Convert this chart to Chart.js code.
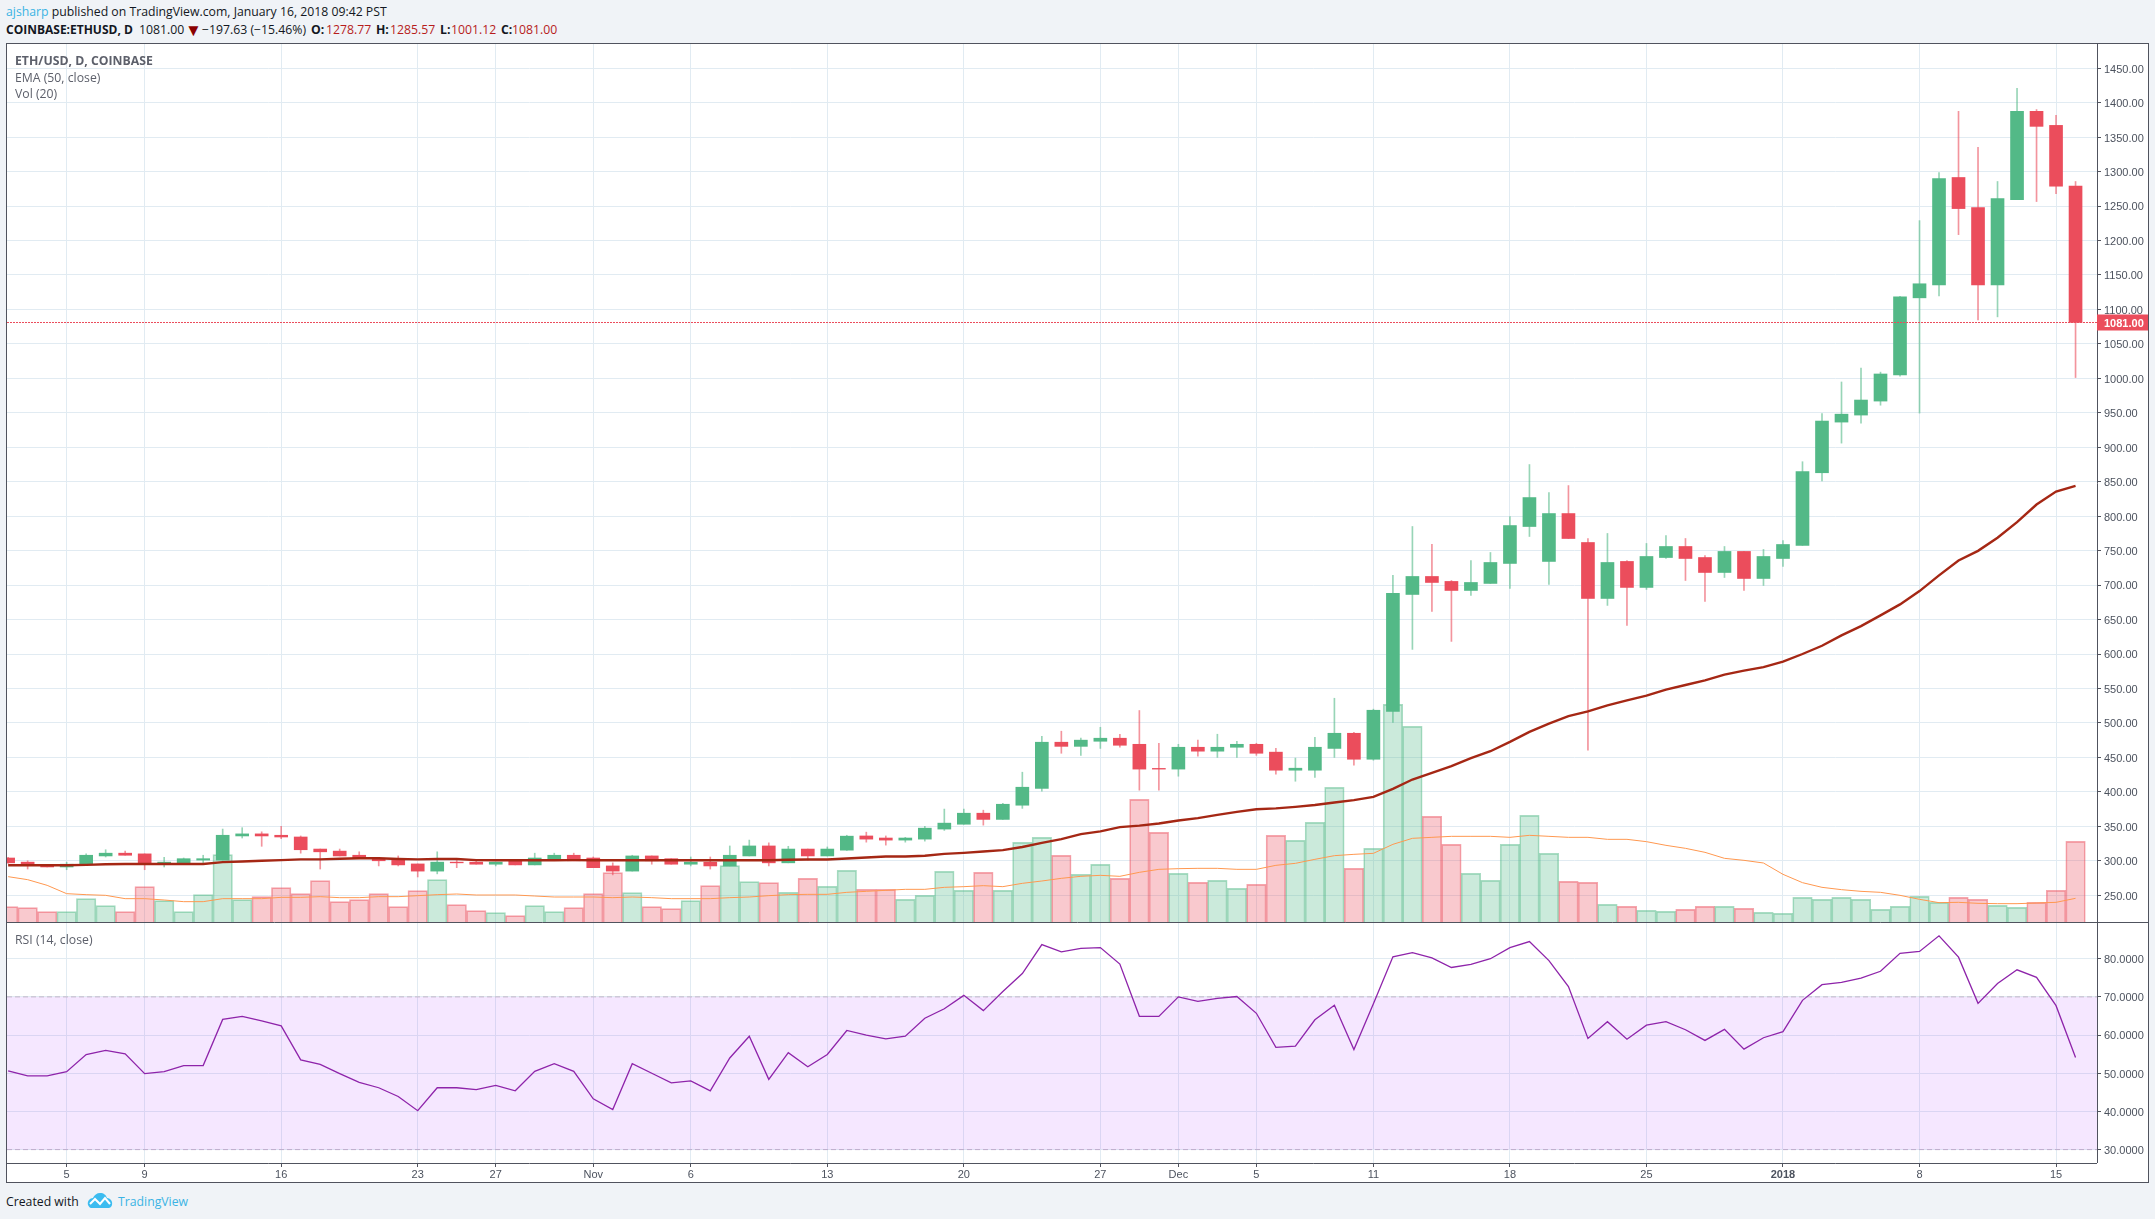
<!DOCTYPE html>
<html>
<head>
<meta charset="utf-8">
<title>ETH/USD</title>
<script src="https://cdn.jsdelivr.net/npm/chart.js@4"></script>
<style>
    html, body { margin: 0; padding: 0; width: 2155px; height: 1219px; overflow: hidden; background: #f0f3f7; }
    body { position: relative; font-family: 'Open Sans', sans-serif; color: #131722; }
    .txt { position: absolute; white-space: pre; line-height: 16px; font-size: 12.25px; }
    .blue { color: #3bb3e4; }
    .red { color: #b71c1c; }
    .pane-note { color: #5d606b; z-index: 5; }
    #frame { position: absolute; left: 6px; top: 43px; width: 2141px; height: 1138px; border: 1px solid #50535e; background: #fff; }
    canvas { position: absolute; left: 0; }
    #logo { position: absolute; left: 87px; top: 1192px; }
</style>
</head>
<body>
<div class="txt" style="left:6px;top:4px"><span class="blue">ajsharp</span> published on TradingView.com, January 16, 2018 09:42 PST</div>

<div class="txt" style="left:6px;top:22px;font-size:12px"><b>COINBASE:ETHUSD, D</b></div>
<div class="txt" style="left:139px;top:22px">1081.00</div>
<div class="txt" style="left:185px;top:22px;font-size:17px;color:#8b0000">▼</div>
<div class="txt" style="left:202px;top:22px">−197.63 (−15.46%)</div>
<div class="txt" style="left:311px;top:22px"><b>O:</b></div>
<div class="txt red" style="left:326px;top:22px">1278.77</div>
<div class="txt" style="left:376px;top:22px"><b>H:</b></div>
<div class="txt red" style="left:390px;top:22px">1285.57</div>
<div class="txt" style="left:440px;top:22px"><b>L:</b></div>
<div class="txt red" style="left:451px;top:22px">1001.12</div>
<div class="txt" style="left:501px;top:22px"><b>C:</b></div>
<div class="txt red" style="left:512px;top:22px">1081.00</div>

<div id="frame">
    <canvas id="priceChart" width="2141" height="879" style="top:0"></canvas>
    <canvas id="rsiChart" width="2141" height="259" style="top:879px"></canvas>
</div>

<div class="txt pane-note" style="left:15px;top:53px"><b>ETH/USD, D, COINBASE</b></div>
<div class="txt pane-note" style="left:15px;top:70px">EMA (50, close)</div>
<div class="txt pane-note" style="left:15px;top:86px">Vol (20)</div>
<div class="txt pane-note" style="left:15px;top:932px">RSI (14, close)</div>

<div class="txt" style="left:6px;top:1194px">Created with</div>
<svg id="logo" width="26" height="17" viewBox="0 0 26 17">
    <path d="M1 13 C0 9 3 6 6 6 C7 3 10 1 13 1 C17 1 19 3 20 6 C23 6 26 9 25 13 C24 16 22 16 21 16 L4 16 C3 16 2 15 1 13 Z" fill="#3cbcf0"/>
    <path d="M3 12 L8 7 L13 12 L18 6 L23 12" fill="none" stroke="#fff" stroke-width="2"/>
</svg>
<div class="txt blue" style="left:118px;top:1194px">TradingView</div>

<script>
// Daily ETH/USD candles from Oct 2 2017 to Jan 16 2018, one entry per day
const opens = [304,298,294,291,295,307,311,310,296,296,
    301,301,336,339,337,334.5,317,314,308,303,
    301,295.4,285,298,298,295,300,294,301,308,
    304,292.5,285,307,303,295,298,292.5,307,321.5,
    297,317,307,315.4,336,333,330,331.4,346,353,
    369,360,380.6,405,472,466,473.4,477.8,469,434,
    433,464.7,459,464.7,469,457.6,431.4,431.4,463,485,
    447.3,516.8,686.4,712.5,705.3,692.2,702.4,731.4,785,734.3,
    803.8,761.8,680.6,734.3,696.6,740,756,740,718.3,748.8,
    709.6,738.6,757.5,863,936.5,946.7,967,1004.8,1116.8,1135.7,
    1291.4,1247.7,1135.7,1259.4,1387.4,1367,1278.77];
const closes = [297,293.5,291,295,308,311,308,296,298,303,
    303,337,339,336,334.5,316,313,307,303,300,
    294,285,298,297,295,298,294,304,308,300,
    290,285,307,300,295,298,292.5,308,321.5,297,
    317,307,317,335.7,331.4,330,333,347.3,354.6,369,
    360,382,406.7,472,466,475,477.8,467.6,433,433,
    464.7,459,464.7,469,456,431.4,434.3,464.7,485,447.3,
    518.4,687.9,712.5,703.8,692.2,703.8,732.8,786.4,827,803.8,
    767.6,680.6,732.8,696.6,741.5,756,738.6,718.3,748.8,709.6,
    741.5,758.9,864.7,938,948,968.5,1006.3,1118.3,1137.2,1290,
    1246.3,1135.7,1260.8,1387.4,1365.6,1278.77,1081];
const highs = [305,300,295,298,310,316,314,310,305,304,
    308,346,348,342,350,336,317,317,313,303,
    307,295.4,313,303,301,298,300,311,311,311,
    305.5,297,308,307,303,305.5,305.5,321.5,330,326,
    321,317,320,337,341.5,336,334,350,375,375,
    373.4,383.5,428.5,480.7,488,478,493.7,483.6,518,470.5,
    469,475,483.6,473.4,470.5,463,449,479,535.8,486.5,
    520,714,785,759,706.7,735.7,747.3,799.5,874.9,834.3,
    844.4,767.6,774.9,735.7,760.4,771.9,767.6,742.9,756,748.8,
    751.7,764.7,879,949,994.7,1015,1009,1119,1228.8,1298.6,
    1387.4,1335,1285.6,1420.8,1390,1381.5,1285.57];
const lows = [296,288,291,287,295,305.5,308,287,291,296,
    296,301,333,321,332,311,288,307,303,292.5,
    292.5,276.5,281,290,295,292.5,294,294,301,300,
    290,279.5,285,295,295,292.5,288,292.5,307,292.5,
    297,301,307,315,327,322.7,327,328.5,344,353,
    351.7,360,376,401,456,453,463,464.7,402.4,402.4,
    422.7,451.7,450,450,453,425.6,415.4,421,450,438.6,
    445.9,500.9,606.7,661.8,618.3,685,702.4,695.1,770.5,700.9,
    767.6,460.3,670.5,641.5,693.7,738.6,706.7,676.3,711,692.2,
    699.5,727,757.5,851,906,935,961,1003,949.6,1119.7,
    1208.5,1084.8,1089.2,1259.4,1256.5,1268,1001.12];

const volumes = [47,44,32,32,71,50,32,107,65,32,
    83,203,68,77,104,86,125,62,68,86,
    47,95,128,53,35,29,20,50,32,44,
    86,149,89,47,41,65,110,170,122,119,
    90,132,108,156,99,99,69,81,153,96,
    150,96,240,255,201,144,174,132,369,270,
    147,120,126,102,114,261,246,300,405,162,
    222,654,588,318,234,147,126,234,321,207,
    123,120,54,48,36,33,39,48,48,42,
    30,27,75,69,75,69,39,48,78,60,
    75,69,51,45,60,96,243];
const volumeMa = [137,128,111,86,83,81,71,71,67,62,
    62,71,71,71,75,75,77,74,74,77,
    77,80,83,85,82,82,82,79,76,76,
    76,74,76,74,71,71,71,74,76,80,
    83,84,84,90,93,96,99,99,105,107,
    110,107,117,124,132,138,141,138,150,159,
    161,162,162,159,159,171,177,189,200,204,
    207,234,252,255,258,258,258,255,261,258,
    255,255,249,249,242,231,222,210,192,186,
    178,144,119,105,98,93,90,81,69,59,
    60,57,56,56,58,60,72];
const ema50 = [293.5,293.5,293.5,293.5,294,295,295.4,295.4,295.4,295.4,
    295.4,298,299,300,301,302,302,303,303.6,303.6,
    302.6,302,302.6,302.6,301,300.7,300.7,300.7,300.7,301,
    300.7,300.7,300.7,300.7,300.7,300.7,300.7,300.7,300.7,300.7,
    301.4,301.9,301.9,303.3,304.8,306.2,306.2,307.2,310,311.5,
    313.5,315.4,320,326,331.5,338.6,342.6,348.8,351,354,
    358.4,361.8,366.6,371,374.8,376,378.2,381,384.5,387.9,
    392.7,404.3,417.9,427.5,437.2,448.8,458.9,472.5,487,499,
    510,516.8,525.5,532.8,539.5,548.2,555,561.8,570,575.8,
    581,588.8,600,612,627,640.5,656,672,691.3,714,
    735.7,749.7,768.6,791.3,816.9,835.7,844];
const rsi14 = [50.6,49.3,49.3,50.4,54.9,56,55.1,49.9,50.4,52,
    52,64.1,64.9,63.7,62.4,53.5,52.3,49.9,47.6,46.2,
    43.9,40.2,46.2,46.2,45.7,46.8,45.4,50.5,52.5,50.5,
    43.3,40.5,52.5,50,47.5,48,45.4,54,59.7,48.4,
    55.4,51.7,54.9,61.2,60,59,59.7,64.4,66.9,70.4,
    66.4,71.4,76.1,83.7,81.8,82.7,82.9,78.6,64.9,64.9,
    70,68.8,69.6,70.1,65.7,56.8,57.1,64,67.8,56.2,
    68.2,80.5,81.6,80.2,77.7,78.5,80,82.9,84.5,79.5,
    72.7,59.1,63.5,58.9,62.6,63.5,61.4,58.6,61.5,56.3,
    59.3,60.9,69.1,73.2,73.8,74.9,76.7,81.4,81.9,86,
    80.4,68.3,73.5,77.1,75.1,67.7,54.1];

// Bottom axis marks, as day index and label
const tickDays = [3,7,14,21,25,30,35,42,49,56,60,64,70,77,84,91,98,105];
const tickLabels = ['5','9','16','23','27','Nov','6','13','20','27','Dec','5','11','18','25','2018','8','15'];

const rsiUpper = 70;
const rsiLower = 30;
const lastPrice = closes[closes.length - 1];

const UP = '#53b987';
const DOWN = '#eb4d5c';
const GRID = '#e1ebf2';
const AXIS = '#50535e';
const LABEL = '#4c525e';
const FONT = "'Liberation Sans', Arial, sans-serif";

const xMin = -0.0585;
const xMax = 107.1;

const days = opens.map((_, i) => i);
const isDown = i => closes[i] < opens[i];

// x scale shared by both panes, the bottom one carries the labels
function dayAxis(showLabels) {
    return {
        type: 'linear',
        min: xMin,
        max: xMax,
        offset: false,
        afterBuildTicks: scale => { scale.ticks = tickDays.map(d => ({ value: d })); },
        afterFit: scale => {
            scale.height = showLabels ? 19 : 0;
            scale.paddingLeft = 0;
            scale.paddingRight = 0;
        },
        border: { display: false },
        grid: { color: GRID, offset: false, drawTicks: showLabels, tickLength: 4, tickColor: AXIS },
        ticks: {
            display: showLabels,
            autoSkip: false,
            maxRotation: 0,
            padding: 1,
            color: LABEL,
            font: ctx => {
                const isYear = ctx.tick && tickLabels[tickDays.indexOf(ctx.tick.value)] === '2018';
                return { family: FONT, size: 11, weight: isYear ? 'bold' : 'normal' };
            },
            callback: value => tickLabels[tickDays.indexOf(value)]
        }
    };
}

function valueAxis(min, max, step, digits) {
    return {
        position: 'right',
        min: min,
        max: max,
        afterFit: scale => {
            scale.width = 51;
            scale.paddingTop = 0;
            scale.paddingBottom = 0;
        },
        border: { display: false },
        grid: { color: GRID, tickLength: 4, tickColor: AXIS },
        ticks: {
            stepSize: step,
            includeBounds: false,
            autoSkip: false,
            padding: 3,
            color: LABEL,
            font: { family: FONT, size: 11, lineHeight: 0.25 },
            // the empty first line drops the text a little below its grid line
            callback: value => ['', value.toFixed(digits)]
        }
    };
}

// Axis rules; the price pane's bottom rule runs on under its value axis
const paneLines = {
    id: 'paneLines',
    afterDraw(chart) {
        const { ctx, chartArea } = chart;
        const isPrice = chart.canvas.id === 'priceChart';
        const x = Math.round(chartArea.right) + 0.5;
        const y = Math.min(Math.round(chartArea.bottom), chart.height - 1) + 0.5;
        ctx.save();
        ctx.strokeStyle = AXIS;
        ctx.lineWidth = 1;
        ctx.beginPath();
        ctx.moveTo(x, 0);
        ctx.lineTo(x, chartArea.bottom);
        ctx.moveTo(0, y);
        ctx.lineTo(isPrice ? chart.width : chartArea.right, y);
        ctx.stroke();
        ctx.restore();
    }
};

const lastPriceTag = {
    id: 'lastPriceTag',
    afterDraw(chart) {
        const { ctx, chartArea, scales } = chart;
        const y = scales.y.getPixelForValue(lastPrice);
        ctx.save();
        ctx.fillStyle = DOWN;
        ctx.fillRect(chartArea.right, y - 8, chart.width - chartArea.right, 16);
        ctx.fillStyle = '#fff';
        ctx.font = 'bold 11px ' + FONT;
        ctx.textBaseline = 'middle';
        ctx.fillText(lastPrice.toFixed(2), chartArea.right + 7, y + 1);
        ctx.restore();
    }
};

const sharedOptions = {
    responsive: false,
    animation: false,
    events: [],
    layout: { padding: 0 },
    plugins: { legend: { display: false }, tooltip: { enabled: false } }
};

new Chart(document.getElementById('priceChart').getContext('2d'), {
    type: 'bar',
    data: {
        datasets: [
            {
                type: 'line',
                order: 0,
                data: [{ x: xMin, y: lastPrice }, { x: xMax, y: lastPrice }],
                borderColor: DOWN,
                borderWidth: 1,
                borderDash: [2, 1],
                pointRadius: 0
            },
            {
                type: 'line',
                order: 1,
                data: days.map(i => ({ x: i, y: ema50[i] })),
                borderColor: '#a52714',
                borderWidth: 2.4,
                pointRadius: 0,
                tension: 0
            },
            {
                order: 2,
                data: days.map(i => ({ x: i, y: [opens[i], closes[i]] })),
                backgroundColor: days.map(i => isDown(i) ? DOWN : UP),
                barThickness: 13,
                grouped: false
            },
            {
                order: 3,
                data: days.map(i => ({ x: i, y: [lows[i], highs[i]] })),
                backgroundColor: days.map(i => isDown(i) ? 'rgba(235,77,92,0.6)' : 'rgba(83,185,135,0.6)'),
                barThickness: 1,
                grouped: false
            },
            {
                type: 'line',
                order: 4,
                yAxisID: 'yVol',
                data: days.map(i => ({ x: i, y: volumeMa[i] })),
                borderColor: '#ff9850',
                borderWidth: 1,
                pointRadius: 0,
                tension: 0
            },
            {
                order: 5,
                yAxisID: 'yVol',
                data: days.map(i => ({ x: i, y: volumes[i] })),
                backgroundColor: days.map(i => isDown(i) ? 'rgba(235,77,92,0.3)' : 'rgba(83,185,135,0.3)'),
                borderColor: days.map(i => isDown(i) ? 'rgba(235,77,92,0.5)' : 'rgba(83,185,135,0.5)'),
                borderWidth: 1,
                barThickness: 19.5,
                grouped: false
            }
        ]
    },
    options: {
        ...sharedOptions,
        scales: {
            x: dayAxis(false),
            y: valueAxis(209.7, 1485.1, 50, 2),
            yVol: { display: false, min: -2, max: 2635 }
        }
    },
    plugins: [paneLines, lastPriceTag]
});

new Chart(document.getElementById('rsiChart').getContext('2d'), {
    type: 'line',
    data: {
        datasets: [
            {
                order: 0,
                data: days.map(i => ({ x: i, y: rsi14[i] })),
                borderColor: '#8e24aa',
                borderWidth: 1.3,
                pointRadius: 0,
                tension: 0
            },
            {
                order: 1,
                data: [{ x: xMin, y: rsiUpper }, { x: xMax, y: rsiUpper }],
                borderColor: '#c1b5c9',
                borderWidth: 1,
                borderDash: [5, 3],
                pointRadius: 0,
                fill: { target: '+1', above: 'rgba(153,21,255,0.1)', below: 'rgba(153,21,255,0.1)' }
            },
            {
                order: 2,
                data: [{ x: xMin, y: rsiLower }, { x: xMax, y: rsiLower }],
                borderColor: '#c1b5c9',
                borderWidth: 1,
                borderDash: [5, 3],
                pointRadius: 0
            }
        ]
    },
    options: {
        ...sharedOptions,
        scales: {
            x: dayAxis(true),
            y: valueAxis(26.49, 89.35, 10, 4)
        }
    },
    plugins: [paneLines]
});
</script>
</body>
</html>
